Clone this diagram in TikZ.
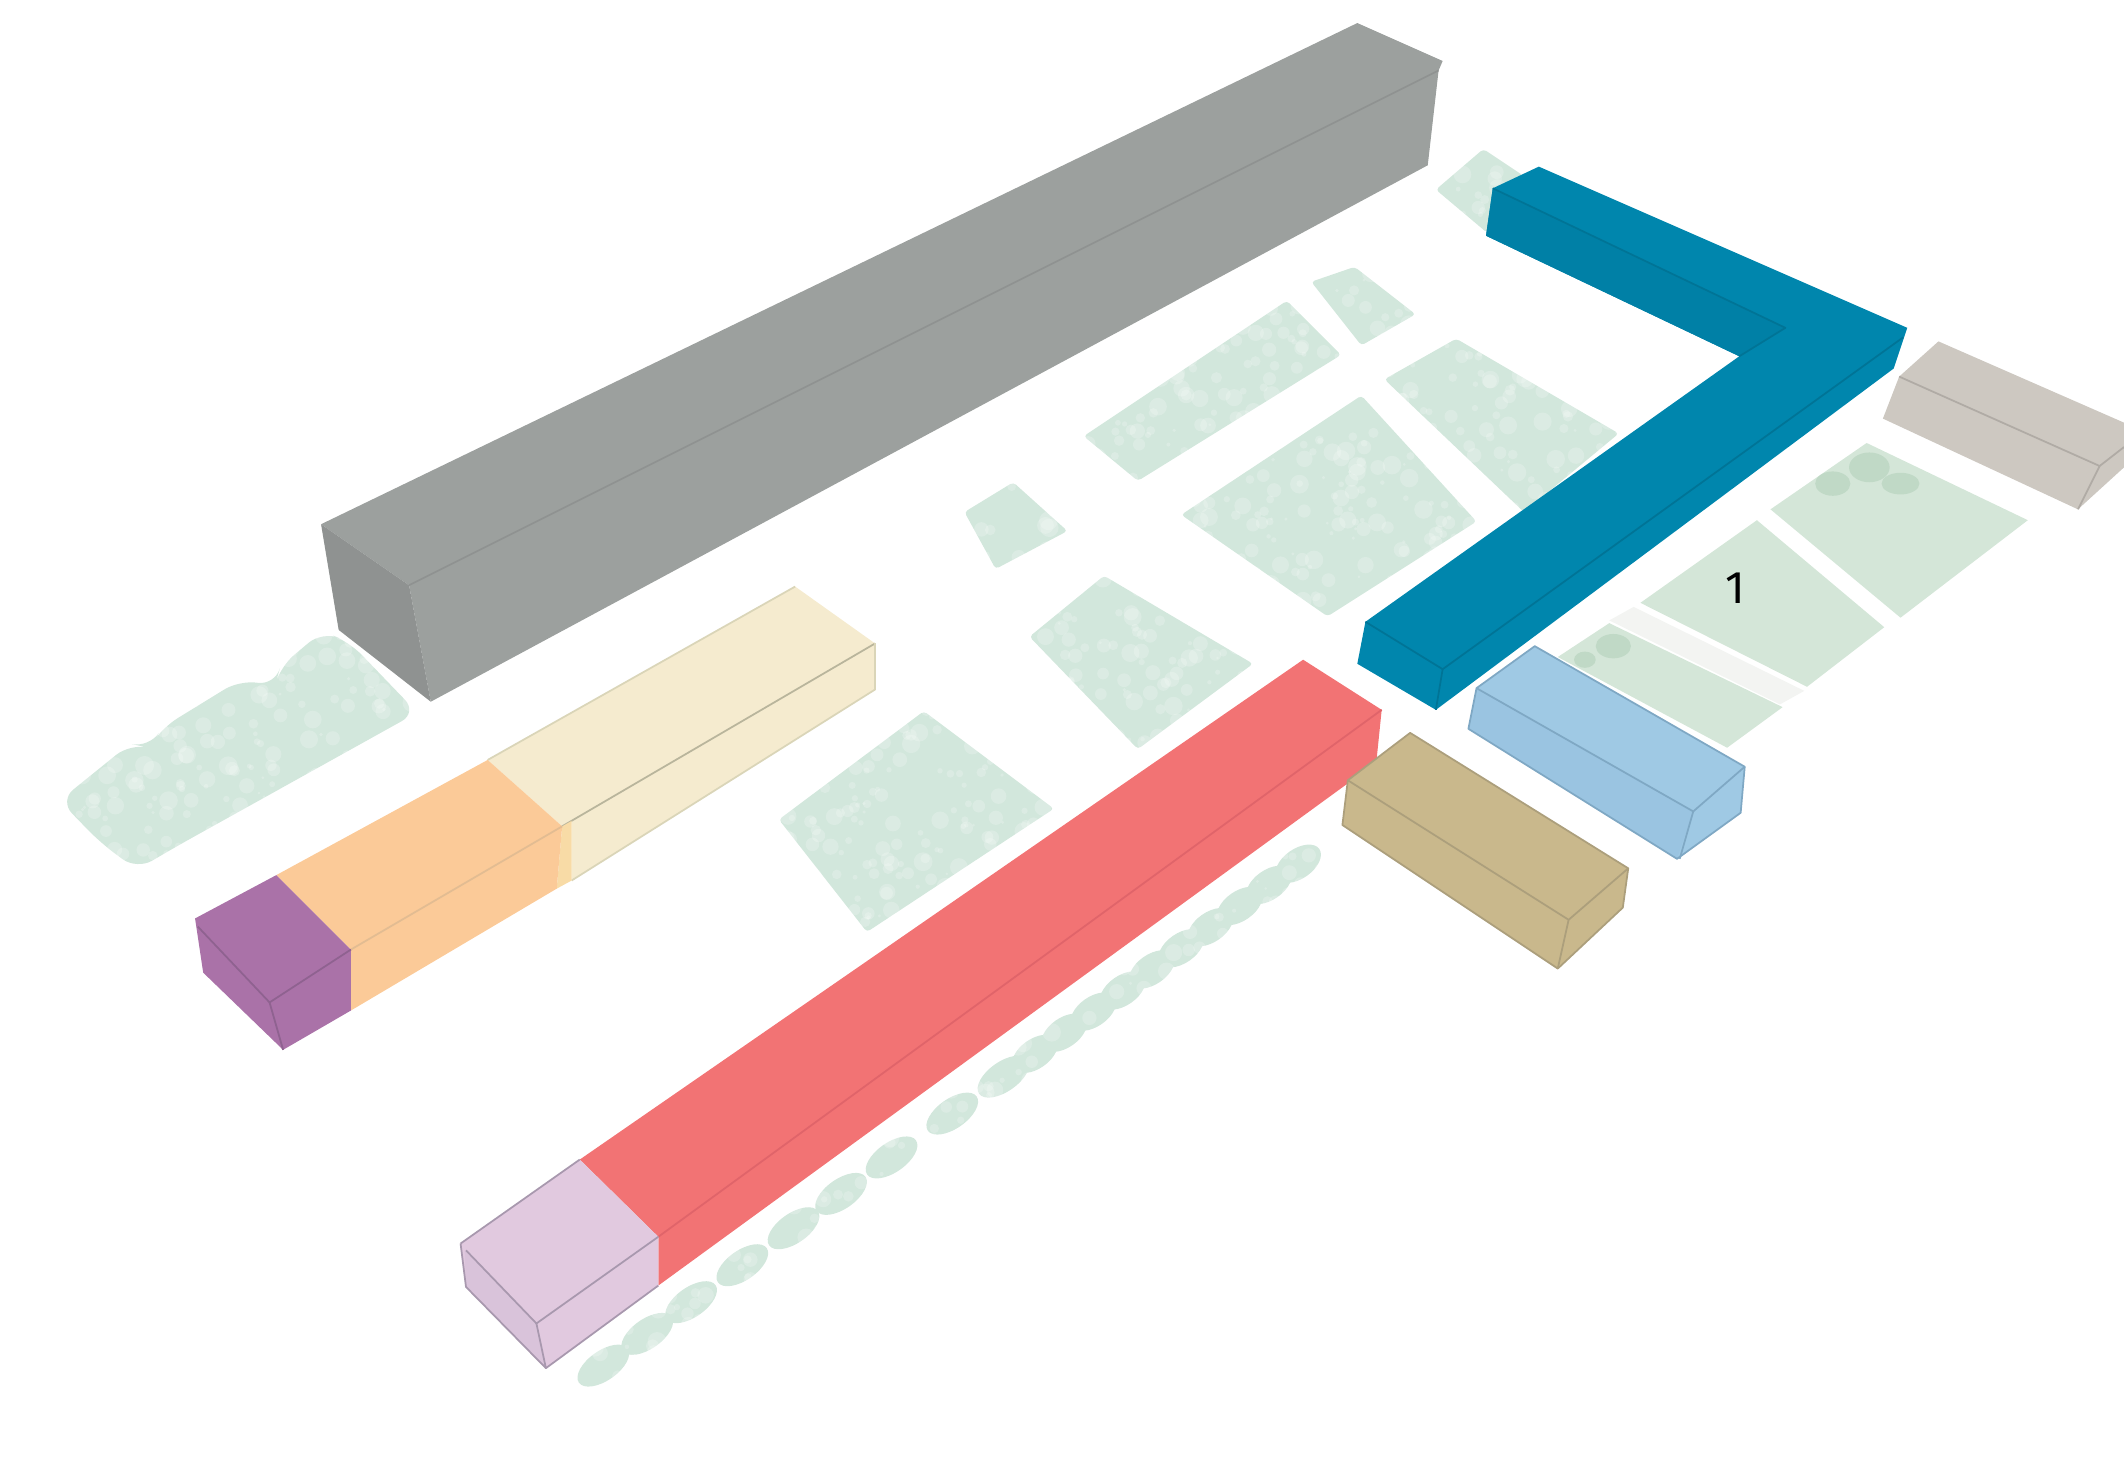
\documentclass[tikz,border=0pt]{standalone}
\usepackage{fontspec}
\setmainfont{Fira Sans}
\definecolor{grass}{HTML}{D2E7DC}
\definecolor{lawn}{HTML}{D4E6D8}
\definecolor{tree}{HTML}{BAD5C1}
\definecolor{road}{HTML}{F3F4F2}
\definecolor{stone}{HTML}{9CA09E}
\definecolor{stoneside}{HTML}{8F9291}
\definecolor{teal}{HTML}{0086AD}
\definecolor{tealside}{HTML}{0080A6}
\definecolor{tealline}{HTML}{007496}
\definecolor{cream}{HTML}{F5EBCF}
\definecolor{creamline}{HTML}{DAD5B8}
\definecolor{peach}{HTML}{FBCA98}
\definecolor{peachpale}{HTML}{F8DBA6}
\definecolor{peachline}{HTML}{E2BC92}
\definecolor{plum}{HTML}{AA72A8}
\definecolor{plumline}{HTML}{8F6290}
\definecolor{coral}{HTML}{F27374}
\definecolor{coralline}{HTML}{E0646A}
\definecolor{lilac}{HTML}{E1C9DF}
\definecolor{lilacside}{HTML}{D9C3DA}
\definecolor{lilacline}{HTML}{A898AE}
\definecolor{sand}{HTML}{C9B88C}
\definecolor{sandline}{HTML}{AC9F7C}
\definecolor{sky}{HTML}{9FC9E4}
\definecolor{skyside}{HTML}{9AC4E1}
\definecolor{skyline}{HTML}{7FA8C4}
\definecolor{ash}{HTML}{CDC8C1}
\definecolor{ashline}{HTML}{B0ABA5}
\tikzset{
  edge/.style={line width=0.5pt, line join=round},
  patch/.style={fill=grass, rounded corners=1pt},
  plot/.style={fill=lawn},
  hedge/.style={fill=grass},
}
\begin{document}
\begin{tikzpicture}[x=0.013546cm, y=-0.013546cm]
  \useasboundingbox (0,0) rectangle (1568,1080);

  \path[patch, rounded corners=5pt] (44,591) -- (96,549) -- (110,552) -- (120,537) -- (177,502) -- (203,506) -- (207,492) -- (238,466) -- (258,474) -- (308,526) -- (130,625) -- (101,642) -- (74,622) -- cycle;
  \path[patch] (575,605) -- (682,525) -- (778,597) -- (640,688) -- cycle;
  \path[patch] (760,470) -- (815,425) -- (925,490) -- (840,553) -- cycle;
  \path[patch] (712,378) -- (748,356) -- (788,392) -- (735,420) -- cycle;
  \path[patch] (800,322) -- (950,222) -- (990,262) -- (840,355) -- cycle;
  \path[patch] (968,208) -- (1000,197) -- (1045,232) -- (1005,255) -- cycle;
  \path[patch] (1022,280) -- (1075,250) -- (1195,320) -- (1125,378) -- cycle;
  \path[patch] (872,380) -- (1005,292) -- (1090,385) -- (980,455) -- cycle;
  \path[patch] (1060,140) -- (1095,110) -- (1125,130) -- (1098,172) -- cycle;
  \foreach \t in {0.01,0.07,0.13,0.2,0.27,0.335,0.404,0.487,0.557} {
    \path[hedge] ({440+\t*540},{1012-\t*390}) ellipse [x radius=22, y radius=11, rotate=35];
  }
  \foreach \t in {0.6,0.64,...,0.98} {
    \path[hedge] ({440+\t*540},{1012-\t*390}) ellipse [x radius=19, y radius=11, rotate=35];
  }

  \pgfmathsetseed{7}
  \foreach \i in {1,...,6000} {
    \pgfmathsetmacro{\px}{40+rnd*1170}
    \pgfmathsetmacro{\py}{100+rnd*940}
    \fill[white, opacity=0.2] (\px,\py) circle (1.0+rnd*6);
  }

  \fill[road] (1206,448) -- (1188,458) -- (1314,520) -- (1332,510) -- cycle;
  \path[plot] (1378,327) -- (1307,376) -- (1403,456) -- (1497,384) -- cycle;
  \path[plot] (1297,384) -- (1211,445) -- (1334,507) -- (1391,463) -- cycle;
  \path[plot] (1188,460) -- (1316,522) -- (1275,552) -- (1150,485) -- cycle;
  \fill[tree, opacity=0.75] (1353,357) ellipse [x radius=13, y radius=9];
  \fill[tree, opacity=0.75] (1380,345) ellipse [x radius=15, y radius=11];
  \fill[tree, opacity=0.75] (1403,357) ellipse [x radius=14, y radius=8];
  \fill[tree, opacity=0.75] (1191,477) ellipse [x radius=13, y radius=9];
  \fill[tree, opacity=0.75] (1170,487) ellipse [x radius=8, y radius=6];

  \fill[stone] (237,387) -- (1002,17) -- (1065,45) -- (1062,52) -- (1054,122) -- (318,518) -- (302,432) -- cycle;
  \fill[stoneside] (237,387) -- (302,432) -- (318,518) -- (250,465) -- cycle;
  \draw[stoneside, edge] (302,432) -- (1062,52);

  \fill[cream] (360,561) -- (587,433) -- (646,475) -- (646,509) -- (422,650) -- (422,606) -- (415,610) -- cycle;
  \draw[creamline, edge] (360,561) -- (587,433);
  \draw[creamline, edge] (422,650) -- (646,509);
  \draw[creamline!85!black, edge] (415,610) -- (646,475);
  \draw[creamline, edge] (646,475) -- (646,509);
  \fill[peachpale] (415,610) -- (422,606) -- (422,650) -- (411,656) -- cycle;
  \fill[peach] (204,646) -- (360,561) -- (415,610) -- (411,656) -- (259,746) -- (259,701) -- cycle;
  \draw[peachline, edge] (259,701) -- (415,610);
  \fill[plum] (144,678) -- (204,646) -- (259,701) -- (259,746) -- (209,775) -- (150,718) -- cycle;
  \draw[plumline, edge] (146,684) -- (199,740) -- (259,701);
  \draw[plumline, edge] (199,740) -- (209,775);

  \fill[coral] (962,487) -- (1020,524) -- (1016,563) -- (486,949) -- (486,913) -- (428,856) -- cycle;
  \draw[coralline, edge] (486,913) -- (1020,524);
  \fill[lilac] (428,856) -- (486,913) -- (486,949) -- (403,1010) -- (344,950) -- (340,918) -- cycle;
  \fill[lilacside] (343,923) -- (396,977) -- (403,1010) -- (344,950) -- cycle;
  \draw[lilacline, edge] (340,918) -- (428,856);
  \draw[lilacline, edge] (344,923) -- (396,977) -- (486,913);
  \draw[lilacline, edge] (396,977) -- (403,1010) -- (486,949);
  \draw[lilacline, edge] (403,1010) -- (344,950) -- (340,918);

  \fill[sand] (1041,541) -- (1202,641) -- (1198,670) -- (1150,715) -- (991,609) -- (995,576) -- cycle;
  \draw[sandline, edge] (995,576) -- (1158,679) -- (1202,641);
  \draw[sandline, edge] (1158,679) -- (1150,715);
  \draw[sandline, edge] (995,576) -- (1041,541) -- (1202,641) -- (1198,670) -- (1150,715) -- (991,609) -- cycle;

  \fill[sky] (1133,477) -- (1288,566) -- (1285,600) -- (1244,630) -- (1238,634) -- (1084,538) -- (1090,508) -- cycle;
  \fill[skyside] (1090,508) -- (1250,599) -- (1238,634) -- (1084,538) -- cycle;
  \draw[skyline, edge] (1090,508) -- (1250,599) -- (1288,566);
  \draw[skyline, edge] (1250,599) -- (1240,634);
  \draw[skyline, edge] (1090,508) -- (1133,477) -- (1288,566) -- (1285,600) -- (1238,634) -- (1084,538) -- cycle;

  \fill[ash] (1431,252) -- (1568,312) -- (1568,345) -- (1534,376) -- (1390,309) -- (1402,278) -- cycle;
  \draw[ashline, edge] (1402,278) -- (1550,344) -- (1534,376);
  \draw[ashline, edge] (1550,344) -- (1568,330);

  \fill[teal] (1136,123) -- (1408,242) -- (1398,272) -- (1060,524) -- (1002,490) -- (1008,459) -- (1284,263) -- (1097,174) -- (1102,139) -- cycle;
  \fill[tealside] (1102,139) -- (1318,242) -- (1284,263) -- (1097,174) -- cycle;
  \draw[tealline, edge] (1102,139) -- (1318,242) -- (1284,263);
  \draw[tealline, edge] (1405,249) -- (1065,494) -- (1008,459);
  \draw[tealline, edge] (1065,494) -- (1060,524);

  \node[font=\fontsize{13pt}{15pt}\selectfont, text=black, inner sep=0pt] (num) at (1281,434) {1};
\end{tikzpicture}
\end{document}
